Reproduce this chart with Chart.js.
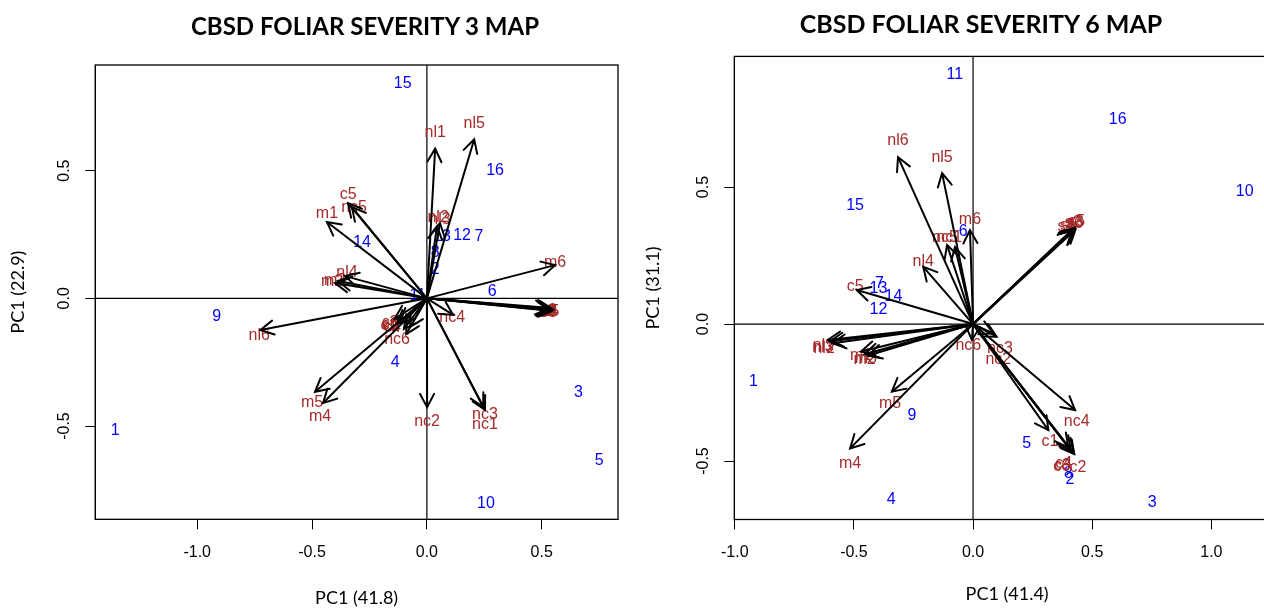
<!DOCTYPE html>
<html>
<head>
<meta charset="utf-8">
<script src="https://cdn.jsdelivr.net/npm/chart.js@4.4.1/dist/chart.umd.min.js"></script>
<style>
  html, body { margin: 0; padding: 0; background: #fff; overflow: hidden; width: 1264px; height: 609px; }
  canvas { position: absolute; top: 0; }
  .ttl { position: absolute; z-index: 2; font-family: Lato, sans-serif; font-weight: 700; white-space: nowrap;
         transform: translateX(-50%); color: #000; line-height: 1.2; }
</style>
</head>
<body>
<div class="ttl" style="left:365px; top:12px; font-size:24px">CBSD FOLIAR SEVERITY 3 MAP</div>
<div class="ttl" style="left:981px; top:8px; font-size:25px">CBSD FOLIAR SEVERITY 6 MAP</div>
<canvas id="map3" width="632" height="609" style="left:0"></canvas>
<canvas id="map6" width="648" height="609" style="left:632px"></canvas>
<script>
// ---- severity 3 ----
const xTicks3 = [-1.0, -0.5, 0.0, 0.5];
const yTicks3 = [-0.5, 0.0, 0.5];
const sampleNames3 = ["1","2","3","4","5","6","7","8","9","10","11","12","13","14","15","16"];
const sampleX3 = [-1.357, 0.036, 0.660, -0.138, 0.750, 0.284, 0.227, 0.036, -0.915, 0.257, -0.040, 0.153, 0.066, -0.282, -0.105, 0.297];
const sampleY3 = [-0.516, 0.111, -0.370, -0.252, -0.636, 0.025, 0.240, 0.178, -0.072, -0.805, 0.010, 0.244, 0.240, 0.217, 0.841, 0.502];
const varNames3 = ["m1","m2","m3","m4","m5","m6","nl1","nl2","nl3","nl4","nl5","nl6","nc1","nc2","nc3","nc4","nc5","nc6","c1","c2","c3","c4","c5","c6","s1","s2","s3","s4","s5","s6"];
const tipX3 = [-0.435, -0.400, -0.387, -0.452, -0.487, 0.558, 0.036, 0.057, 0.044, -0.356, 0.206, -0.725, 0.245, 0.001, 0.253, 0.114, -0.326, -0.073, -0.130, -0.100, -0.140, -0.090, -0.343, -0.117, 0.530, 0.535, 0.540, 0.545, 0.550, 0.540];
const tipY3 = [0.299, 0.060, 0.068, -0.410, -0.366, 0.130, 0.586, 0.295, 0.283, 0.087, 0.623, -0.124, -0.426, -0.426, -0.437, -0.065, 0.357, -0.112, -0.100, -0.120, -0.080, -0.140, 0.373, -0.093, -0.040, -0.045, -0.048, -0.050, -0.045, -0.038];
const labelX3 = [-0.435, -0.413, -0.400, -0.465, -0.500, 0.558, 0.036, 0.049, 0.057, -0.348, 0.206, -0.730, 0.253, 0.001, 0.253, 0.110, -0.317, -0.130, -0.165, -0.155, -0.160, -0.150, -0.343, -0.160, 0.520, 0.525, 0.530, 0.535, 0.540, 0.528];
const labelY3 = [0.330, 0.064, 0.068, -0.461, -0.410, 0.138, 0.647, 0.318, 0.307, 0.099, 0.686, -0.144, -0.496, -0.484, -0.457, -0.077, 0.357, -0.163, -0.105, -0.112, -0.095, -0.115, 0.408, -0.101, -0.050, -0.052, -0.055, -0.052, -0.050, -0.048];

// ---- severity 6 ----
const xTicks6 = [-1.0, -0.5, 0.0, 0.5, 1.0];
const yTicks6 = [-0.5, 0.0, 0.5];
const sampleNames6 = ["1","2","3","4","5","6","7","8","9","10","11","12","13","14","15","16"];
const sampleX6 = [-0.922, 0.407, 0.752, -0.344, 0.225, -0.041, -0.393, 0.400, -0.257, 1.140, -0.077, -0.397, -0.397, -0.334, -0.495, 0.607];
const sampleY6 = [-0.211, -0.569, -0.651, -0.642, -0.438, 0.337, 0.149, -0.547, -0.336, 0.483, 0.911, 0.051, 0.128, 0.100, 0.434, 0.747];
const varNames6 = ["m1","m2","m3","m4","m5","m6","nl1","nl2","nl3","nl4","nl5","nl6","nc1","nc2","nc3","nc4","nc5","nc6","c1","c2","c3","c4","c5","c6","s1","s2","s3","s4","s5","s6"];
const tipX6 = [-0.470, -0.455, -0.440, -0.516, -0.341, -0.013, -0.600, -0.590, -0.610, -0.209, -0.130, -0.315, -0.076, 0.085, 0.099, 0.428, -0.109, -0.005, 0.316, 0.420, 0.410, 0.400, -0.488, 0.425, 0.420, 0.425, 0.430, 0.415, 0.428, 0.420];
const tipY6 = [-0.100, -0.110, -0.115, -0.454, -0.247, 0.343, -0.063, -0.070, -0.058, 0.209, 0.551, 0.609, 0.281, -0.034, -0.046, -0.314, 0.288, -0.058, -0.387, -0.470, -0.460, -0.450, 0.124, -0.475, 0.343, 0.350, 0.345, 0.340, 0.352, 0.348];
const labelX6 = [-0.470, -0.455, -0.450, -0.516, -0.348, -0.013, -0.628, -0.625, -0.630, -0.209, -0.130, -0.315, -0.100, 0.106, 0.113, 0.435, -0.118, -0.020, 0.323, 0.440, 0.375, 0.380, -0.495, 0.372, 0.400, 0.420, 0.430, 0.390, 0.435, 0.425];
const labelY6 = [-0.115, -0.130, -0.125, -0.508, -0.289, 0.380, -0.080, -0.090, -0.085, 0.227, 0.606, 0.668, 0.314, -0.131, -0.089, -0.357, 0.314, -0.077, -0.430, -0.525, -0.515, -0.510, 0.136, -0.520, 0.360, 0.372, 0.372, 0.355, 0.375, 0.368];

const labelFont = '16px "Liberation Sans", Arial, sans-serif';
const tickFont = {family: '"Liberation Sans", Arial, sans-serif', size: 16};
const axisTitleFont = {family: 'Lato, sans-serif', size: 18};

// zero lines, text labels under the arrows, then arrow heads and the frame on top
const biplotDecor = {
  id: 'biplotDecor',
  beforeDatasetsDraw(chart) {
    const {ctx, chartArea: a, scales: {x, y}} = chart;
    ctx.save();
    ctx.beginPath(); ctx.rect(a.left, a.top, a.right - a.left, a.bottom - a.top); ctx.clip();
    const x0 = x.getPixelForValue(0), y0 = y.getPixelForValue(0);
    ctx.strokeStyle = '#000'; ctx.lineWidth = 1.2;
    ctx.beginPath();
    ctx.moveTo(a.left, y0); ctx.lineTo(a.right, y0);
    ctx.moveTo(x0, a.top); ctx.lineTo(x0, a.bottom);
    ctx.stroke();
    ctx.font = labelFont; ctx.textAlign = 'center'; ctx.textBaseline = 'middle';
    chart.data.datasets.forEach((ds, i) => {
      if (!ds.names) return;
      ctx.fillStyle = ds.textColor;
      chart.getDatasetMeta(i).data.forEach((pt, j) => ctx.fillText(ds.names[j], pt.x, pt.y));
    });
    ctx.restore();
  },
  afterDatasetsDraw(chart) {
    const {ctx, chartArea: a} = chart;
    ctx.save();
    ctx.beginPath(); ctx.rect(a.left, a.top, a.right - a.left, a.bottom - a.top); ctx.clip();
    ctx.strokeStyle = '#000'; ctx.lineWidth = 2; ctx.lineCap = 'round';
    const len = 15, spread = 28 * Math.PI / 180;
    chart.data.datasets.forEach((ds, i) => {
      if (ds.kind !== 'arrow') return;
      const [p0, p1] = chart.getDatasetMeta(i).data;
      const ang = Math.atan2(p1.y - p0.y, p1.x - p0.x);
      ctx.beginPath();
      ctx.moveTo(p1.x - len * Math.cos(ang - spread), p1.y - len * Math.sin(ang - spread));
      ctx.lineTo(p1.x, p1.y);
      ctx.lineTo(p1.x - len * Math.cos(ang + spread), p1.y - len * Math.sin(ang + spread));
      ctx.stroke();
    });
    ctx.restore();
    ctx.save();
    ctx.strokeStyle = '#000'; ctx.lineWidth = 1.3;
    ctx.strokeRect(a.left, a.top, a.right - a.left, a.bottom - a.top);
    ctx.restore();
  }
};

function biplot(id, d) {
  const arrows = d.varNames.map((n, i) => ({
    kind: 'arrow', showLine: true, data: [{x: 0, y: 0}, {x: d.tipX[i], y: d.tipY[i]}],
    borderColor: '#000', borderWidth: 2, pointRadius: 0
  }));
  const samples = {
    names: d.sampleNames, textColor: '#0000ff', pointRadius: 0,
    data: d.sampleX.map((v, i) => ({x: v, y: d.sampleY[i]}))
  };
  const varLabels = {
    names: d.varNames, textColor: '#a52a2a', pointRadius: 0,
    data: d.labelX.map((v, i) => ({x: v, y: d.labelY[i]}))
  };
  return new Chart(document.getElementById(id), {
    type: 'scatter',
    data: {datasets: [samples, varLabels, ...arrows]},
    options: {
      responsive: false, animation: false, events: [],
      layout: {padding: {left: 0, right: d.padRight, top: d.padTop, bottom: 0}},
      plugins: {legend: {display: false}, tooltip: {enabled: false}},
      scales: {
        x: {
          type: 'linear', min: d.xMin, max: d.xMax,
          afterBuildTicks: s => { s.ticks = d.xTicks.map(v => ({value: v})); },
          afterFit: s => { s.height = d.xAxisH; },
          grid: {drawOnChartArea: false, tickLength: 10, color: '#000', lineWidth: 1},
          border: {display: true, color: '#000', width: 1},
          ticks: {color: '#000', font: tickFont, padding: d.xTickPad, maxRotation: 0, autoSkip: false, callback: v => v.toFixed(1)},
          title: {display: true, text: d.xTitle, color: '#000', font: axisTitleFont, padding: {top: 0, bottom: d.xTitlePad}}
        },
        y: {
          type: 'linear', min: d.yMin, max: d.yMax,
          afterBuildTicks: s => { s.ticks = d.yTicks.map(v => ({value: v})); },
          afterFit: s => { s.width = d.yAxisW; },
          grid: {drawOnChartArea: false, tickLength: 10, color: '#000', lineWidth: 1},
          border: {display: true, color: '#000', width: 1},
          ticks: {color: '#000', font: tickFont, padding: 7, minRotation: 90, maxRotation: 90, crossAlign: 'center', autoSkip: false, callback: v => v.toFixed(1)},
          title: {display: true, text: d.yTitle, color: '#000', font: axisTitleFont, padding: {top: d.yTitlePad, bottom: 0}}
        }
      }
    },
    plugins: [biplotDecor]
  });
}

biplot('map3', {
  sampleNames: sampleNames3, sampleX: sampleX3, sampleY: sampleY3,
  varNames: varNames3, tipX: tipX3, tipY: tipY3, labelX: labelX3, labelY: labelY3,
  xTicks: xTicks3, yTicks: yTicks3,
  xMin: -1.444, xMax: 0.832, yMin: -0.865, yMax: 0.9135,
  padTop: 65, padRight: 14, xAxisH: 89.7, yAxisW: 95.2,
  xTickPad: 14, xTitlePad: 0, yTitlePad: 7,
  xTitle: 'PC1 (41.8)', yTitle: 'PC1 (22.9)'
});

biplot('map6', {
  sampleNames: sampleNames6, sampleX: sampleX6, sampleY: sampleY6,
  varNames: varNames6, tipX: tipX6, tipY: tipY6, labelX: labelX6, labelY: labelY6,
  xTicks: xTicks6, yTicks: yTicks6,
  xMin: -1.002, xMax: 1.288, yMin: -0.7135, yMax: 0.977,
  padTop: 56.4, padRight: 0, xAxisH: 89.5, yAxisW: 102.3,
  xTickPad: 13, xTitlePad: 4, yTitlePad: 10,
  xTitle: 'PC1 (41.4)', yTitle: 'PC1 (31.1)'
});
</script>
</body>
</html>
